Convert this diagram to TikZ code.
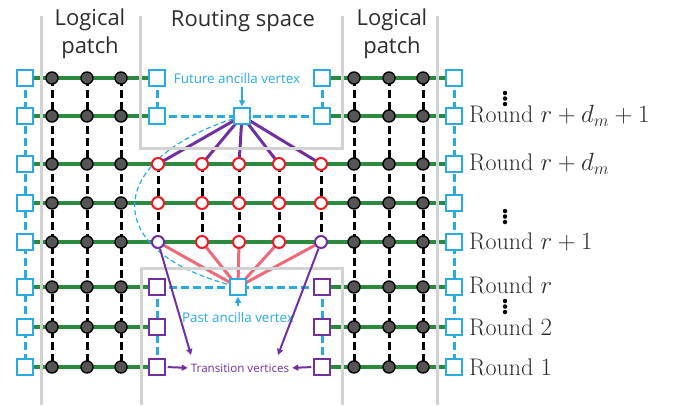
\documentclass[tikz,border=0pt]{standalone}
\usepackage{fontspec}
\setsansfont{Open Sans}
\usetikzlibrary{arrows.meta,backgrounds}
\definecolor{qblue}{RGB}{41,171,226}
\definecolor{qgreen}{RGB}{44,137,64}
\definecolor{qpurple}{RGB}{112,48,160}
\definecolor{qred}{RGB}{237,28,36}
\definecolor{qpink}{RGB}{238,106,122}
\definecolor{qgray}{RGB}{210,210,210}
\definecolor{qdot}{RGB}{85,85,85}
\definecolor{qtext}{RGB}{45,45,45}
\tikzset{
  bsq/.style={draw=qblue,fill=white,line width=1.5pt,minimum size=16pt,inner sep=0pt},
  psq/.style={draw=qpurple,fill=white,line width=1.5pt,minimum size=16pt,inner sep=0pt},
  rcirc/.style={circle,draw=qred,fill=white,line width=2pt,minimum size=12pt,inner sep=0pt},
  pcirc/.style={circle,draw=qpurple,fill=white,line width=2pt,minimum size=12pt,inner sep=0pt},
  bdot/.style={circle,draw=black,fill=qdot,line width=1.4pt,minimum size=12pt,inner sep=0pt},
  vdot/.style={circle,fill=black,minimum size=4.5pt,inner sep=0pt},
  grayline/.style={draw=qgray,line width=3pt},
  greenline/.style={draw=qgreen,line width=3.2pt},
  blackdash/.style={draw=black,line width=3pt,dash pattern=on 8pt off 4pt},
  bluedash/.style={draw=qblue,line width=3pt,dash pattern=on 8pt off 4pt},
  purpleline/.style={draw=qpurple,line width=3pt},
  pinkline/.style={draw=qpink,line width=3pt},
  headtext/.style={font=\sffamily\fontsize{22}{28}\selectfont,text=qtext,align=center,inner sep=0pt},
  roundlabel/.style={anchor=west,font=\fontsize{24}{26}\selectfont,text=qtext,inner sep=0pt},
  arr/.style={-{Triangle[length=6pt,width=6pt]}},
  smalltext/.style={font=\sffamily\fontsize{13.4}{15}\selectfont,inner sep=0pt},
}
\begin{document}
\begin{tikzpicture}[x=1pt,y=-1pt]
\useasboundingbox (0,0) rectangle (677,405);

% gray region outlines
\draw[grayline] (41,16) -- (41,405);
\draw[grayline] (140,16) -- (140,148) -- (342,148) -- (342,16);
\draw[grayline] (437,16) -- (437,405);
\draw[grayline] (141,405) -- (141,268) -- (342,268) -- (342,405);

% headings
\node[headtext] (hl) at (90,34) {Logical\\patch};
\node[headtext] (hr) at (392,34) {Logical\\patch};
\node[headtext] (hm) at (243,21) {Routing space};

% outer blue squares and logical patch dots
\foreach \i/\y in {1/78,2/116,3/164,4/203,5/242,6/287,7/327,8/367}{
  \node[bsq] (LB\i) at (25,\y) {};
  \node[bsq] (RB\i) at (454,\y) {};
  \foreach \c/\x in {1/52,2/87,3/121}{\node[bdot] (L\c\i) at (\x,\y) {};}
  \foreach \c/\x in {1/354,2/389,3/423}{\node[bdot] (R\c\i) at (\x,\y) {};}
}

% routing space: future rows
\node[bsq] (S1) at (157,78) {};
\node[bsq] (S2) at (157,116) {};
\node[bsq] (T1) at (322,78) {};
\node[bsq] (T2) at (322,116) {};
\node[bsq] (FA) at (242,116) {};

% routing space: red circle rows
\foreach \i/\y in {3/164,4/203}{
  \foreach \c/\x in {1/158,2/202,3/239,4/279,5/321}{\node[rcirc] (C\c\i) at (\x,\y) {};}
}
\node[pcirc] (C15) at (158,242) {};
\node[rcirc] (C25) at (202,242) {};
\node[rcirc] (C35) at (239,242) {};
\node[rcirc] (C45) at (279,242) {};
\node[pcirc] (C55) at (321,242) {};

% routing space: past rows
\node[psq] (P6) at (157,287) {};
\node[psq] (P7) at (157,327) {};
\node[psq] (P8) at (157,367) {};
\node[psq] (Q6) at (322,287) {};
\node[psq] (Q7) at (322,327) {};
\node[psq] (Q8) at (322,367) {};
\node[bsq] (PA) at (238,287) {};

% labels
\node[smalltext,text=qblue] (FL) at (237,78) {Future ancilla vertex};
\node[smalltext,text=qblue] (PL) at (238,317) {Past ancilla vertex};
\node[text=qpurple,font=\sffamily\fontsize{11.6}{13}\selectfont,inner sep=0pt] (TV) at (240,368) {Transition vertices};

\node[roundlabel] (rd1) at (469,116) {Round $r+d_m+1$};
\node[roundlabel] (rd2) at (469,164) {Round $r+d_m$};
\node[roundlabel] (rd3) at (469,242) {Round $r+1$};
\node[roundlabel] (rd4) at (469,285) {Round $r$};
\node[roundlabel] (rd5) at (469,327) {Round $2$};
\node[roundlabel] (rd6) at (469,367) {Round $1$};

\foreach \k/\y in {a/93,b/211,c/301}{
  \node[vdot] (v\k1) at (505,\y) {};
  \node[vdot] (v\k2) at (505,\y+5.5) {};
  \node[vdot] (v\k3) at (505,\y+11) {};
}

% arrows to labels
\coordinate (fla) at (242,87);
\draw[qblue,line width=1.8pt,arr,shorten >=1pt] (fla) -- (FA.north);
\coordinate (pla) at (238,306);
\draw[qblue,line width=1.8pt,arr,shorten >=1pt] (pla) -- (PA.south);

\coordinate (tvl) at (191,355);
\coordinate (tvr) at (278,355);
\draw[qpurple,line width=2pt,arr] (C15) -- (tvl);
\draw[qpurple,line width=2pt,arr] (C55) -- (tvr);
\draw[qpurple,line width=2pt,arr,shorten <=2pt,shorten >=3pt] (P8.east) -- (TV.west);
\draw[qpurple,line width=2pt,arr,shorten <=2pt,shorten >=3pt] (Q8.west) -- (TV.east);

\begin{pgfonlayer}{background}
  % green rows
  \foreach \i in {1,2}{
    \draw[greenline] (LB\i.center) -- (S\i.center);
    \draw[greenline] (T\i.center) -- (RB\i.center);
  }
  \foreach \i in {3,4,5}{\draw[greenline] (LB\i.center) -- (RB\i.center);}
  \draw[greenline] (LB6.center) -- (P6.center);
  \draw[greenline] (LB7.center) -- (P7.center);
  \draw[greenline] (LB8.center) -- (P8.center);
  \draw[greenline] (Q6.center) -- (RB6.center);
  \draw[greenline] (Q7.center) -- (RB7.center);
  \draw[greenline] (Q8.center) -- (RB8.center);
  % black dashed verticals
  \foreach \c in {1,2,3}{
    \draw[blackdash] (L\c1.center) -- (L\c8.center);
    \draw[blackdash] (R\c1.center) -- (R\c8.center);
  }
  \foreach \c in {1,...,5}{\draw[blackdash] (C\c3.center) -- (C\c5.center);}
  % blue dashed
  \draw[bluedash] (LB1.center) -- (LB8.center);
  \draw[bluedash] (RB1.center) -- (RB8.center);
  \draw[bluedash] (S1.center) -- (S2.center);
  \draw[bluedash] (T1.center) -- (T2.center);
  \draw[bluedash] (S2.center) -- (FA.center) -- (T2.center);
  \draw[bluedash] (P6.center) -- (P8.center);
  \draw[bluedash] (Q6.center) -- (Q8.center);
  \draw[bluedash] (P6.center) -- (PA.center) -- (Q6.center);
  % thin dashed curve
  \draw[qblue,line width=1.2pt,dash pattern=on 5pt off 3pt] (FA) .. controls (105,160) and (100,250) .. (PA);
  % purple and pink fans
  \foreach \c in {1,...,5}{
    \draw[purpleline] (FA.center) -- (C\c3.center);
    \draw[pinkline] (PA.center) -- (C\c5.center);
  }
\end{pgfonlayer}
\end{tikzpicture}
\end{document}
